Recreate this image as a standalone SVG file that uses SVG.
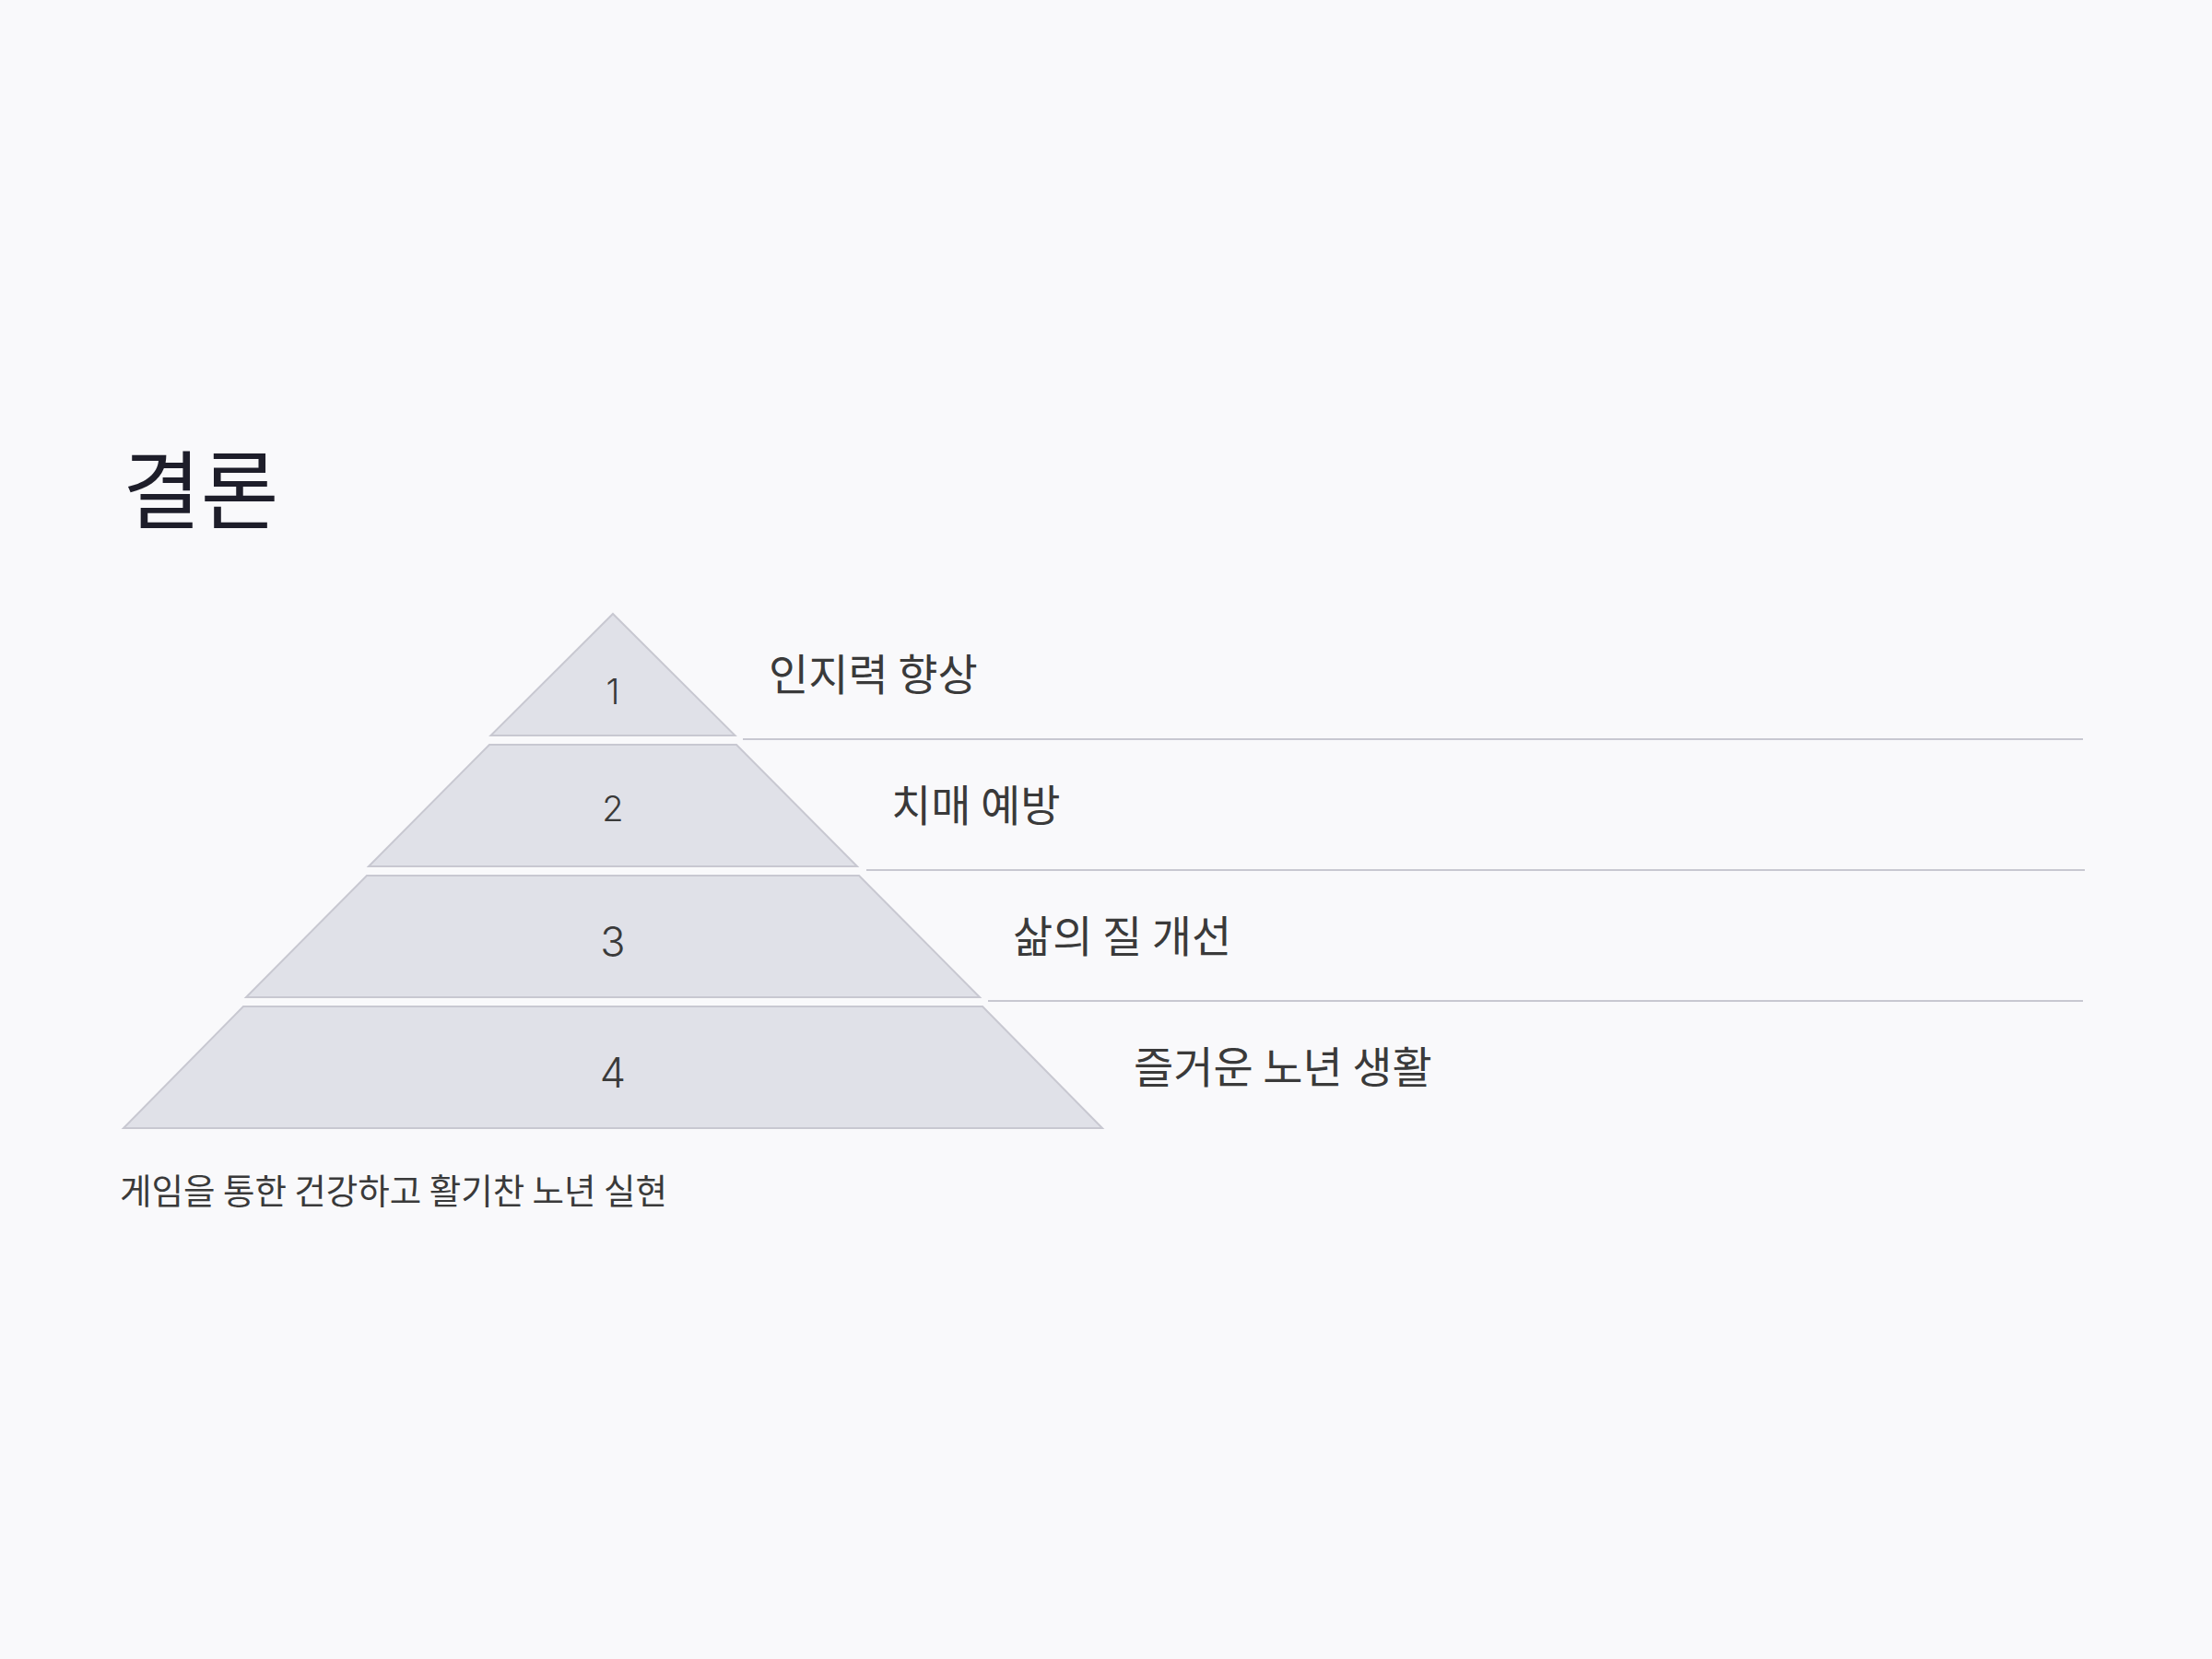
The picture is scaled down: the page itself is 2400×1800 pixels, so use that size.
<svg xmlns="http://www.w3.org/2000/svg" width="2400" height="1800" viewBox="0 0 2400 1800">
  <style>
    .lvl { fill: #e0e1e8; stroke: #c8c8d1; stroke-width: 2; stroke-linejoin: miter; }
    .num { font-family: Inter, "Liberation Sans", sans-serif; font-weight: 300; fill: #3a3a3a; text-anchor: middle; }
    .lbl { font-family: "Noto Sans CJK KR", "Noto Sans", sans-serif; font-size: 47px; fill: #3a3a3a; }
    .sep { stroke: #c8c8d1; stroke-width: 2; }
  </style>
  <rect x="0" y="0" width="2400" height="1800" fill="#f9f9fb"/>
  <text id="title" x="133" y="566" font-family="'Noto Sans CJK KR', sans-serif" font-size="92" fill="#1e1e2a">결론</text>
  <g id="connectors">
    <line class="sep" x1="806" y1="802" x2="2260" y2="802"/>
    <line class="sep" x1="940" y1="944" x2="2262" y2="944"/>
    <line class="sep" x1="1072" y1="1086" x2="2260" y2="1086"/>
  </g>
  <g id="level1">
    <polygon class="lvl" points="665,666 797.5,798 532.5,798"/>
    <text class="num" x="665" y="764" font-size="38">1</text>
    <text class="lbl" x="834" y="749">인지력 향상</text>
  </g>
  <g id="level2">
    <polygon class="lvl" points="531,808 799,808 930,940 400,940"/>
    <text class="num" x="665" y="891" font-size="38">2</text>
    <text class="lbl" x="967" y="891">치매 예방</text>
  </g>
  <g id="level3">
    <polygon class="lvl" points="398,950 932,950 1063,1082 267,1082"/>
    <text class="num" x="665" y="1038" font-size="45">3</text>
    <text class="lbl" x="1099" y="1033">삶의 질 개선</text>
  </g>
  <g id="level4">
    <polygon class="lvl" points="264,1092 1066,1092 1196,1224 134,1224"/>
    <text class="num" x="665" y="1180" font-size="45">4</text>
    <text class="lbl" x="1230" y="1175">즐거운 노년 생활</text>
  </g>
  <text id="subtitle" x="130" y="1306" font-family="'Noto Sans CJK KR', sans-serif" font-size="37.5" fill="#3a3a3a">게임을 통한 건강하고 활기찬 노년 실현</text>
</svg>
